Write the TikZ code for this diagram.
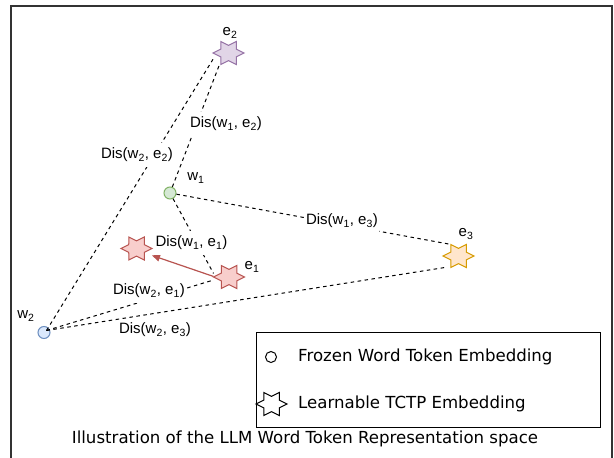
\documentclass[tikz,border=0pt]{standalone}
\usepackage{fontspec}
\setmainfont{Liberation Sans}
\newfontfamily\verdfont{DejaVu Sans}
\usetikzlibrary{arrows.meta}
\definecolor{redfill}{HTML}{F8CECC}
\definecolor{redline}{HTML}{B85450}
\definecolor{purfill}{HTML}{E1D5E7}
\definecolor{purline}{HTML}{9673A6}
\definecolor{orfill}{HTML}{FFE6CC}
\definecolor{orline}{HTML}{D79B00}
\definecolor{grfill}{HTML}{D5E8D4}
\definecolor{grline}{HTML}{82B366}
\definecolor{blfill}{HTML}{DAE8FC}
\definecolor{blline}{HTML}{6C8EBF}
\definecolor{framecol}{HTML}{333333}
\newcommand\hexstar[3]{%
  \draw[fill=#2,draw=#3,line width=1pt,shift={(#1)}]
    (0:15.5 and 13.3) -- (30:8.95 and 7.68) -- (60:15.5 and 13.3) --
    (90:8.95 and 7.68) -- (120:15.5 and 13.3) -- (150:8.95 and 7.68) --
    (180:15.5 and 13.3) -- (210:8.95 and 7.68) -- (240:15.5 and 13.3) --
    (270:8.95 and 7.68) -- (300:15.5 and 13.3) -- (330:8.95 and 7.68) -- cycle;}
\begin{document}
\begin{tikzpicture}[x=1pt,y=-1pt,
  starnode/.style={rectangle, minimum width=31pt, minimum height=23pt, inner sep=0pt, outer sep=0pt},
  dot/.style={circle, minimum size=12pt, inner sep=0pt, line width=1pt},
  dashline/.style={draw=black, line width=1pt, dash pattern=on 3.5pt off 3.5pt},
  lbl/.style={font=\fontsize{15}{18}\selectfont, inner sep=1pt},
  dislbl/.style={lbl, fill=white, inner xsep=1pt, inner ysep=5pt},
  legtext/.style={font=\verdfont\fontsize{16.6}{19}\selectfont, anchor=west, inner sep=0pt},
  redarrow/.style={draw=redline, line width=1.2pt, -{Triangle[length=8pt,width=7pt]}}]
\useasboundingbox (0,0) rectangle (614,458);
\fill[white] (0,0) rectangle (614,458);
% frame
\draw[framecol, line width=1.5pt] (11,460) -- (11,6) -- (612,6) -- (612,460);
% shape nodes
\node[starnode] (e2) at (228.5,53) {};
\node[starnode] (e3) at (458.5,256) {};
\node[starnode] (e1) at (229,277) {};
\node[starnode] (e1b) at (136.5,248.5) {};
\node[dot, draw=grline, fill=grfill] (w1) at (170,193) {};
\node[dot, draw=blline, fill=blfill] (w2) at (44,332.5) {};
\coordinate (w2c) at (46.5,330.5);
\hexstar{e2}{purfill}{purline}
\hexstar{e3}{orfill}{orline}
\hexstar{e1}{redfill}{redline}
\hexstar{e1b}{redfill}{redline}
% dashed connectors
\draw[dashline] (w2c) -- (e2.202);
\draw[dashline] (w1) -- (e2.232);
\draw[dashline] (w1) -- (e3.122);
\draw[dashline] (w1) -- (e1.167);
\draw[dashline] (w2c) -- (e1.191);
\draw[dashline] (w2c) -- (e3.220);
\draw[redarrow] (e1.178) -- (e1b.-24);
% distance labels
\node[dislbl] (d22) at (137,155) {Dis(w\textsubscript{2}, e\textsubscript{2})};
\node[dislbl] (d12) at (226,124) {Dis(w\textsubscript{1}, e\textsubscript{2})};
\node[dislbl] (d13) at (342,221) {Dis(w\textsubscript{1}, e\textsubscript{3})};
\node[dislbl] (d11) at (191.5,243) {Dis(w\textsubscript{1}, e\textsubscript{1})};
\node[dislbl] (d21) at (149,291) {Dis(w\textsubscript{2}, e\textsubscript{1})};
\node[lbl] (d23) at (155,330) {Dis(w\textsubscript{2}, e\textsubscript{3})};
% point labels
\node[lbl] (le2) at (230,33) {e\textsubscript{2}};
\node[lbl] (lw1) at (196,178) {w\textsubscript{1}};
\node[lbl] (le1) at (252,267) {e\textsubscript{1}};
\node[lbl] (le3) at (466,234) {e\textsubscript{3}};
\node[lbl] (lw2) at (26,316) {w\textsubscript{2}};
% legend
\node[draw=black, line width=1pt, minimum width=344pt, minimum height=95pt, inner sep=0pt] (legend) at (428,379.5) {};
\node[circle, draw=black, line width=1pt, minimum size=11pt, inner sep=0pt] (lc) at (271,357) {};
\node[starnode] (ls) at (271.5,404) {};
\hexstar{ls}{white}{black}
\node[legtext] (t1) at (298,357) {Frozen Word Token Embedding};
\node[legtext] (t2) at (298,404) {Learnable TCTP Embedding};
% caption
\node[font=\verdfont\fontsize{16.6}{19}\selectfont, inner sep=0pt] (cap) at (305,439) {Illustration of the LLM Word Token Representation space};
\end{tikzpicture}
\end{document}
